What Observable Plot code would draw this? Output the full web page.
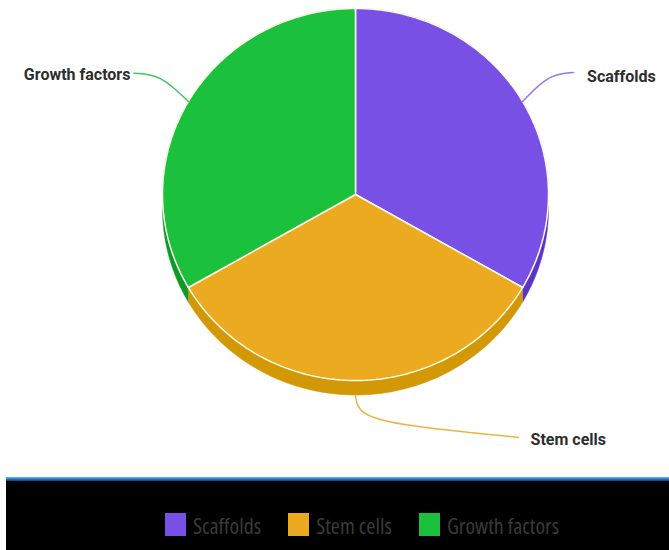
<!DOCTYPE html>
<html><head><meta charset="utf-8">
<script src="https://cdn.jsdelivr.net/npm/d3@7"></script>
<script src="https://cdn.jsdelivr.net/npm/@observablehq/plot@0.6"></script>
<style>
body{margin:0;background:#fff;}
#band{margin-left:6px;width:663px;}
#bar{height:4px;background:linear-gradient(to bottom,#6cc0f0,#1f78c8 50%,#0b3f80);}
#legend{height:69px;background:#000;display:flex;justify-content:flex-start;align-items:flex-start;padding-left:159px;box-sizing:border-box;}
#legend > div{margin-top:27px !important;}
.leg-swatch{margin-right:27px !important;}
.leg-swatch > svg{margin-right:7px !important;}
</style></head><body>
<div id="chart"></div>
<div id="band"><div id="bar"></div><div id="legend"></div></div>
<script>
const categories = ["Scaffolds", "Stem cells", "Growth factors"];
const values = [1, 1, 1];
const colors = ["#7950e6", "#ebaa1f", "#1bc13c"];
const sideColors = ["#5a35c6", "#d29806", "#0f9a28"];
const leaderColors = ["#9378ea", "#e8b540", "#47c462"];

// layout (annotation placement, in pie-radius units)
const depth = 0.078;
const labelLayout = {
  "Scaffolds": {path: [[1.0, 0.645], [1.13, 0.656]], text: [1.2, 0.634], anchor: "start"},
  "Stem cells": {path: [[0.01, -1.172], [0.181, -1.237], [0.845, -1.306]], text: [0.907, -1.317], anchor: "start"},
  "Growth factors": {path: [[-1.01, 0.645], [-1.148, 0.652]], text: [-1.166, 0.645], anchor: "end"}
};

const arcs = d3.pie().sort(null).value(d => d.value)(categories.map((name, i) => ({name, value: values[i]})));
const N = 80;
const arcPts = a => d3.range(N + 1).map(k => {
  const t = a.startAngle + (a.endAngle - a.startAngle) * k / N;
  return [Math.sin(t), Math.cos(t)];
});

const marks = [];
arcs.forEach((a, i) => {
  const pts = arcPts(a);
  const poly = [...pts, ...pts.slice().reverse().map(([x, y]) => [x, y - depth])];
  marks.push(Plot.line(poly, {x: d => d[0], y: d => d[1], fill: sideColors[i], stroke: sideColors[i], strokeWidth: 0.5}));
});
arcs.forEach((a, i) => {
  const poly = [[0, 0], ...arcPts(a), [0, 0]];
  marks.push(Plot.line(poly, {x: d => d[0], y: d => d[1], fill: colors[i], stroke: "#fffbe8", strokeWidth: 1.5, strokeLinejoin: "round"}));
});
arcs.forEach((a, i) => {
  const m = (a.startAngle + a.endAngle) / 2;
  const L = labelLayout[a.data.name];
  let start = [Math.sin(m), Math.cos(m)];
  if (Math.cos(m) < -0.5) start = [start[0], start[1] - depth];
  marks.push(Plot.line([start, ...L.path], {x: d => d[0], y: d => d[1], stroke: leaderColors[i], strokeWidth: 1.5, curve: "basis"}));
  marks.push(Plot.text([a.data.name], {x: () => L.text[0], y: () => L.text[1], text: d => d, textAnchor: L.anchor,
    fontSize: 16, fontWeight: "bold", fill: "#2e2e2e", fontFamily: "Roboto"}));
});

const chart = Plot.plot({
  width: 669,
  height: 477,
  marginLeft: 162, marginRight: 121, marginTop: 8, marginBottom: 97,
  x: {domain: [-1, 1], axis: null},
  y: {domain: [-1, 1], axis: null},
  style: {background: "#fff", overflow: "visible"},
  marks
});
document.getElementById("chart").appendChild(chart);

const legend = Plot.legend({
  color: {type: "ordinal", domain: categories, range: colors},
  legend: "swatches",
  className: "leg",
  swatchWidth: 21, swatchHeight: 23,
  style: {fontFamily: "'Open Sans',sans-serif", fontStretch: "condensed", fontSize: "22px", color: "#3a3a3a", background: "transparent"}
});
document.getElementById("legend").appendChild(legend);
</script></body></html>
